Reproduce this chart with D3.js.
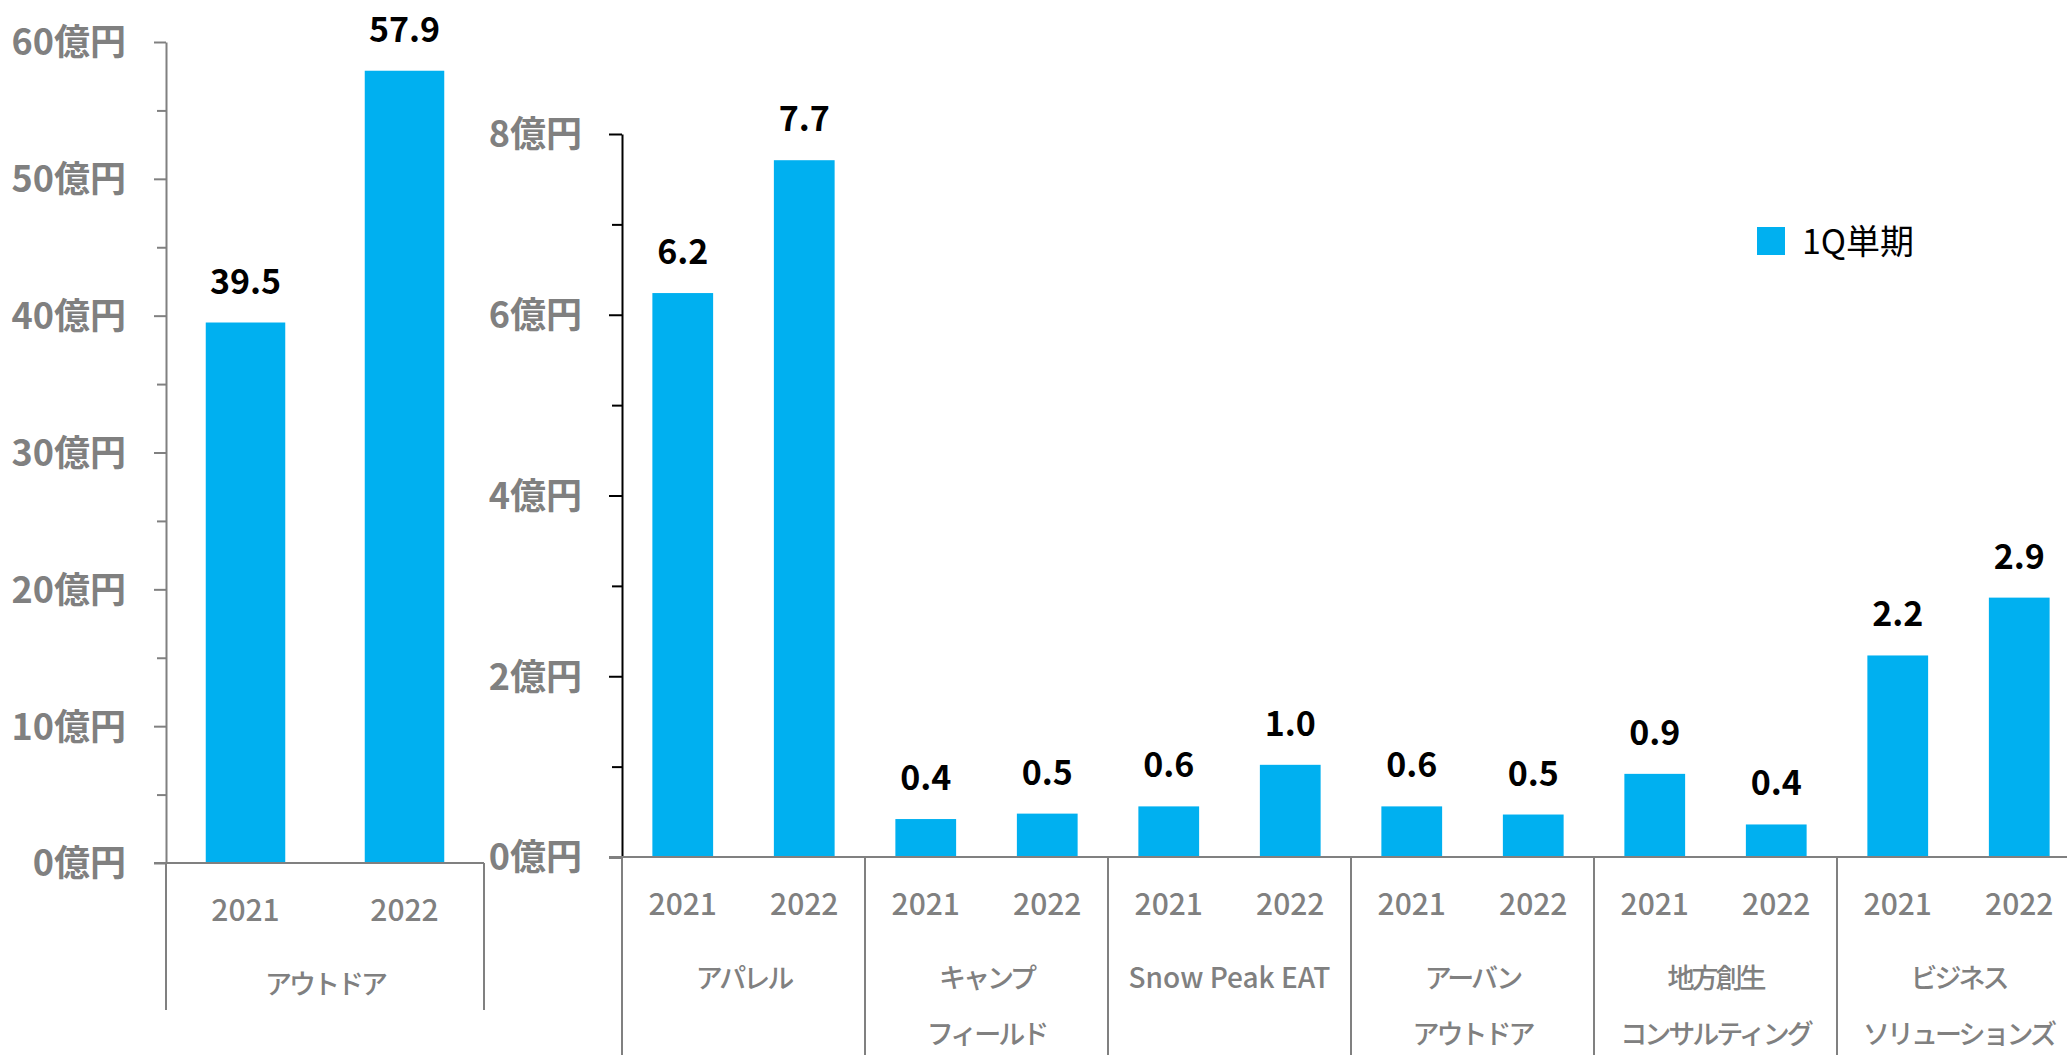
<!DOCTYPE html>
<html lang="ja">
<head>
<meta charset="utf-8">
<script src="https://cdn.jsdelivr.net/npm/d3@7"></script>
<style>
  html, body { margin: 0; padding: 0; background: #fff; }
  svg { display: block; font-family: "Noto Sans CJK JP", "Noto Sans", sans-serif; }
</style>
</head>
<body>
<svg id="chart" width="2067" height="1055"></svg>
<script>
// ---- data ----
const years = ["2021", "2022"];

const outdoorGroups = ["アウトドア"];
const outdoorValues = [[39.5, 57.9]];

const segmentGroups = ["apparel", "campfield", "eat", "urban", "regional", "business"];
const segmentLabels = [
  ["アパレル"],
  ["キャンプ", "フィールド"],
  ["Snow Peak EAT"],
  ["アーバン", "アウトドア"],
  ["地方創生", "コンサルティング"],
  ["ビジネス", "ソリューションズ"]
];
const segmentValues = [
  [6.24, 7.71],
  [0.42, 0.48],
  [0.56, 1.02],
  [0.56, 0.47],
  [0.92, 0.36],
  [2.23, 2.87]
];

const leftMajorTicks = [0, 10, 20, 30, 40, 50, 60];
const leftMinorTicks = [5, 15, 25, 35, 45, 55];
const rightMajorTicks = [0, 2, 4, 6, 8];
const rightMinorTicks = [1, 3, 5, 7];
const tickUnit = "億円";
const legendLabel = "1Q単期";

// ---- style ----
const BAR = "#00B0F0";
const GRAY = "#808080";
const svg = d3.select("#chart");

function drawPanel(cfg) {
  const g = svg.append("g");
  const y = d3.scaleLinear().domain(cfg.yDomain).range([cfg.y0, cfg.y1]);
  const outer = d3.scaleBand().domain(cfg.groups).range([cfg.x0, cfg.x0 + cfg.groupWidth * cfg.groups.length]);
  const inner = d3.scaleBand().domain(years).range([0, outer.bandwidth()]).paddingInner(0.5).paddingOuter(0.25);

  // minor ticks
  g.append("g")
    .attr("transform", `translate(${cfg.x0},0)`)
    .call(d3.axisLeft(y).tickValues(cfg.minor).tickSize(cfg.minorSize).tickSizeOuter(0).tickFormat(""))
    .call(a => a.select(".domain").remove())
    .call(a => a.selectAll("line").attr("stroke", cfg.axisColor).attr("stroke-width", 2));

  // major ticks with labels
  g.append("g")
    .attr("transform", `translate(${cfg.x0},0)`)
    .call(d3.axisLeft(y).tickValues(cfg.major).tickSize(cfg.majorSize).tickSizeOuter(0)
      .tickPadding(cfg.tickPad).tickFormat(d => d + tickUnit))
    .call(a => a.select(".domain").attr("stroke", cfg.axisColor).attr("stroke-width", 2))
    .call(a => a.selectAll("line").attr("stroke", cfg.axisColor).attr("stroke-width", 2))
    .call(a => a.selectAll("text")
      .attr("fill", GRAY)
      .attr("font-size", 36)
      .attr("font-weight", 700)
      .attr("font-family", "'Noto Sans CJK JP', sans-serif")
      .attr("dy", "0.36em"));

  // bars
  const grp = g.selectAll(".grp").data(cfg.groups).join("g")
    .attr("transform", d => `translate(${outer(d)},0)`);

  grp.each(function (gName, gi) {
    const vals = cfg.values[gi];
    const sel = d3.select(this);
    sel.selectAll("rect").data(vals).join("rect")
      .attr("x", (d, i) => inner(years[i]))
      .attr("width", inner.bandwidth())
      .attr("y", d => y(d))
      .attr("height", d => y(0) - y(d))
      .attr("fill", BAR);

    sel.selectAll("text.val").data(vals).join("text")
      .attr("class", "val")
      .attr("x", (d, i) => inner(years[i]) + inner.bandwidth() / 2)
      .attr("y", d => y(d) - 29)
      .attr("text-anchor", "middle")
      .attr("font-size", 34)
      .attr("font-weight", 700)
      .attr("fill", "#000")
      .text(d => d.toFixed(1));

    sel.selectAll("text.yr").data(years).join("text")
      .attr("class", "yr")
      .attr("x", d => inner(d) + inner.bandwidth() / 2)
      .attr("y", y(0) + 58)
      .attr("text-anchor", "middle")
      .attr("font-size", 30)
      .attr("font-weight", 500)
      .attr("fill", GRAY)
      .text(d => d);

    const lines = cfg.labels[gi];
    const latin = /^[\x00-\x7F]+$/.test(lines.join(""));
    sel.selectAll("text.cat").data(lines).join("text")
      .attr("class", "cat")
      .attr("x", outer.bandwidth() / 2)
      .attr("y", (d, i) => y(0) + 131 + i * 56)
      .attr("text-anchor", "middle")
      .attr("font-size", latin ? 28 : 27)
      .attr("letter-spacing", latin ? 0 : -3)
      .attr("font-weight", 500)
      .attr("fill", GRAY)
      .text(d => d);
  });

  // category axis baseline
  g.append("line")
    .attr("x1", cfg.x0 - cfg.majorSize).attr("x2", outer.range()[1])
    .attr("y1", y(0)).attr("y2", y(0))
    .attr("stroke", GRAY).attr("stroke-width", 2);

  // group dividers
  const edges = cfg.groups.map(d => outer(d)).concat([outer.range()[1]]);
  g.selectAll("line.div").data(edges).join("line")
    .attr("class", "div")
    .attr("x1", d => d).attr("x2", d => d)
    .attr("y1", y(0)).attr("y2", cfg.dividerEnd)
    .attr("stroke", GRAY).attr("stroke-width", 2);
}

drawPanel({
  groups: outdoorGroups, labels: [["アウトドア"]], values: outdoorValues,
  yDomain: [0, 60], y0: 863, y1: 42, x0: 166, groupWidth: 318,
  major: leftMajorTicks, minor: leftMinorTicks, majorSize: 12, minorSize: 9, tickPad: 28,
  axisColor: GRAY, dividerEnd: 1010
});

drawPanel({
  groups: segmentGroups, labels: segmentLabels, values: segmentValues,
  yDomain: [0, 8], y0: 857, y1: 134, x0: 622, groupWidth: 243,
  major: rightMajorTicks, minor: rightMinorTicks, majorSize: 13, minorSize: 10, tickPad: 27,
  axisColor: "#000", dividerEnd: 1055
});

// legend
const legend = svg.append("g").attr("transform", "translate(1757,227)");
legend.append("rect").attr("width", 28).attr("height", 28).attr("fill", BAR);
legend.append("text")
  .attr("x", 45).attr("y", 27)
  .attr("font-size", 34)
  .attr("fill", "#000")
  .text(legendLabel);
</script>
</body>
</html>
